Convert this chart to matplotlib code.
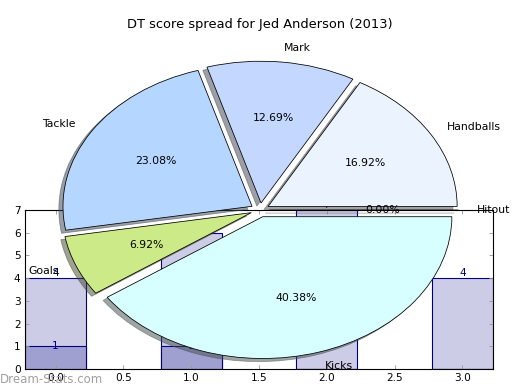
import matplotlib
matplotlib.use('Agg')
import matplotlib.pyplot as plt

# ── data ──────────────────────────────────────────────────────────────────────
pie_labels = ['Handballs', 'Mark', 'Tackle', 'Goals', 'Kicks', 'Hitout']
pie_values = [16.92, 12.69, 23.08, 6.92, 40.38, 0.0]
pie_colors = ['#ebf3ff', '#c4d8ff', '#b4d6ff', '#cdea88', '#d8ffff', '#ffffff']

bar_x = [0, 1, 2, 3]
bar_light = [4, 6, 7, 4]
bar_dark = [1, 1, 0, 0]

TITLE = 'DT score spread for Jed Anderson (2013)'
W, H = 520, 390

fig = plt.figure(figsize=(6.5, 4.875), dpi=80)
fig.patch.set_facecolor('white')

# ── bar chart underneath ─────────────────────────────────────────────────────
axb = fig.add_axes([25 / W, 21 / H, 468 / W, 159 / H])
axb.bar(bar_x, bar_light, width=0.45, color='#ccccE6', edgecolor='#000080', linewidth=1)
axb.bar(bar_x, bar_dark, width=0.45, color='#a0a0d0', edgecolor='#000080', linewidth=1)
for x, h in zip(bar_x, bar_light):
    axb.text(x, h, str(h), ha='center', va='bottom', fontsize=9.5, color='#000080')
for x, h in zip(bar_x, bar_dark):
    if h > 0:
        axb.text(x, h, str(h), ha='center', va='center', fontsize=9.5, color='#000080')
axb.set_xlim(-0.225, 3.225)
axb.set_ylim(0, 7)
axb.set_xticks([0, 0.5, 1, 1.5, 2, 2.5, 3])
axb.set_yticks(range(8))
axb.xaxis.set_major_formatter(matplotlib.ticker.FormatStrFormatter('%.1f'))
axb.tick_params(direction='in', length=4, color='#999999', top=True, right=True,
                labelsize=9.5, pad=4)
for s in axb.spines.values():
    s.set_linewidth(1)

# ── pie on top ───────────────────────────────────────────────────────────────
axp = fig.add_axes([26 / W, 4.5 / H, 468 / W, 351 / H])
axp.pie(pie_values, labels=pie_labels, colors=pie_colors, radius=1.01,
        explode=[0.05] * len(pie_values), autopct='%1.2f%%', shadow=True,
        wedgeprops=dict(edgecolor='black', linewidth=0.7),
        textprops=dict(fontsize=9.8))
axp.set_aspect('auto')
axp.set_xlim(-1.25, 1.25)
axp.set_ylim(-1.25, 1.25)
axp.set_frame_on(False)
axp.set_title(TITLE, fontsize=11.7)

fig.text(0.0, 4 / H, 'Dream-Stats.com', fontsize=10.6, color='#a0a0a0',
         ha='left', va='bottom')

fig.savefig('out.png', dpi=80, facecolor='white')
